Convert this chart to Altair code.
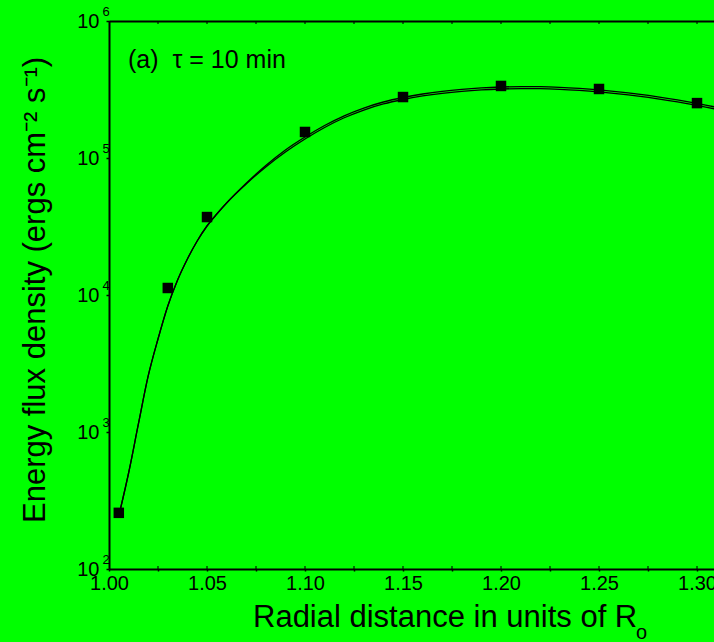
import altair as alt
import pandas as pd

FONT = "Liberation Sans"

# Measured energy flux density at each radial distance
r_obs = [1.005, 1.03, 1.05, 1.10, 1.15, 1.20, 1.25, 1.30]
flux_obs = [257, 11250, 37070, 154900, 278600, 335700, 319000, 251600]

# Model curves (two nearly coincident solutions)
r_fit = [1.005, 1.01, 1.015, 1.02, 1.025, 1.03, 1.035, 1.04, 1.045, 1.05,
         1.055, 1.06, 1.07, 1.08, 1.09, 1.10, 1.11, 1.12, 1.13, 1.14,
         1.15, 1.16, 1.17, 1.18, 1.19, 1.20, 1.21, 1.22, 1.23, 1.24,
         1.25, 1.26, 1.27, 1.28, 1.29, 1.30, 1.31, 1.32]
flux_fit_a = [244, 502, 1144, 2564, 4773, 8312, 12870, 18320, 24800, 31890,
              39010, 46940, 64590, 85970, 110600, 137600, 167000, 196600, 224000, 247900,
              267300, 283600, 296800, 306900, 314200, 318900, 321100, 320600, 317400, 311500,
              303800, 294200, 283000, 270500, 256700, 242000, 226700, 210900]
flux_fit_b = [244, 502, 1144, 2564, 4773, 8312, 12870, 18320, 24800, 31890,
              39010, 46940, 65370, 88120, 114400, 142300, 172700, 203300, 231600, 256300,
              276400, 293200, 306900, 317300, 324900, 329700, 332000, 331500, 328200, 322100,
              314100, 304200, 292600, 279700, 265400, 250200, 234400, 218100]

# Axis tick positions and decade labels
x_ticks = [1.000, 1.025, 1.050, 1.075, 1.100, 1.125, 1.150, 1.175, 1.200,
           1.225, 1.250, 1.275, 1.300]
y_decades = [100, 1000, 10000, 100000, 1000000]
y_exponents = ["2", "3", "4", "5", "6"]

obs_df = pd.DataFrame({"r": r_obs, "flux": flux_obs})
fit_df = pd.concat([
    pd.DataFrame({"r": r_fit, "flux": flux_fit_a, "curve": "a"}),
    pd.DataFrame({"r": r_fit, "flux": flux_fit_b, "curve": "b"}),
])
exp_df = pd.DataFrame({"flux": y_decades, "exp": y_exponents})
tick_df = pd.DataFrame({"r": x_ticks})

W, H = 605, 548
x_scale = alt.Scale(domain=[1.0, 1.30867], nice=False, zero=False)
y_scale = alt.Scale(type="log", domain=[100, 1000000], nice=False)

axis_common = dict(
    domainColor="black", domainWidth=2, tickColor="black", tickWidth=1.5,
    labelFont=FONT, labelFontSize=20, labelColor="black",
    grid=False, title=None,
)

x_bottom = alt.Axis(
    orient="bottom", values=x_ticks, tickSize=2, labelPadding=2,
    labelExpr="(round(datum.value*1000) % 50 == 0) ? format(datum.value, '.2f') : ''",
    labelOverlap=False, labelFlush=False, **axis_common,
)
x_top = alt.Axis(orient="top", labels=False, ticks=False, **axis_common)
y_left = alt.Axis(
    orient="left", values=y_decades, labelExpr="'10'", tickSize=3, labelPadding=7,
    labelOverlap=False, labelFlush=False, **axis_common,
)

lines = alt.Chart(fit_df).mark_line(
    color="black", strokeWidth=1.3, clip=True, interpolate="monotone"
).encode(
    x=alt.X("r:Q", scale=x_scale, axis=x_bottom),
    y=alt.Y("flux:Q", scale=y_scale, axis=y_left),
    detail="curve:N",
)

points = alt.Chart(obs_df).mark_point(
    shape="square", filled=True, color="black", size=110, opacity=1, clip=True
).encode(
    x=alt.X("r:Q", scale=x_scale, axis=x_top),
    y=alt.Y("flux:Q", scale=y_scale),
)

# Inward ticks along the top and bottom frame
ticks_top = alt.Chart(tick_df).mark_tick(
    color="black", size=3, thickness=1.5, clip=True
).encode(x=alt.X("r:Q", scale=x_scale, axis=None), y=alt.value(1.5))
ticks_bottom = alt.Chart(tick_df).mark_tick(
    color="black", size=3, thickness=1.5, clip=True
).encode(x=alt.X("r:Q", scale=x_scale, axis=None), y=alt.value(H - 1.5))

exps = alt.Chart(exp_df).mark_text(
    font=FONT, fontSize=13, color="black", align="center", dy=-9
).encode(
    x=alt.value(-3),
    y=alt.Y("flux:Q", scale=y_scale),
    text="exp:N",
)


def label(text, x, y, size, **kw):
    return alt.Chart(pd.DataFrame({"t": [text]})).mark_text(
        font=FONT, fontSize=size, color="black", **kw
    ).encode(x=alt.value(x), y=alt.value(y), text="t:N")


panel = label("(a)\u00a0\u00a0τ = 10 min", 19, 47, 25, align="left", baseline="alphabetic")
x_title = label("Radial distance in units of R", 144, 606, 31, align="left", baseline="alphabetic")
x_sub = label("o", 527, 618, 20, align="left", baseline="alphabetic")
y_title = label("Energy flux density (ergs cm⁻² s⁻¹)", -64, 502, 31,
                align="left", baseline="alphabetic", angle=270)

chart = alt.layer(
    lines, points, ticks_top, ticks_bottom, exps, panel, x_title, x_sub, y_title
).properties(
    width=W, height=H,
    autosize=alt.AutoSizeParams(type="none"),
    padding={"left": 109, "top": 21, "right": 0, "bottom": 73},
    background="#00ff00",
).configure_view(stroke=None)

chart.save("out.html", embed_options={"renderer": "svg", "actions": False})
